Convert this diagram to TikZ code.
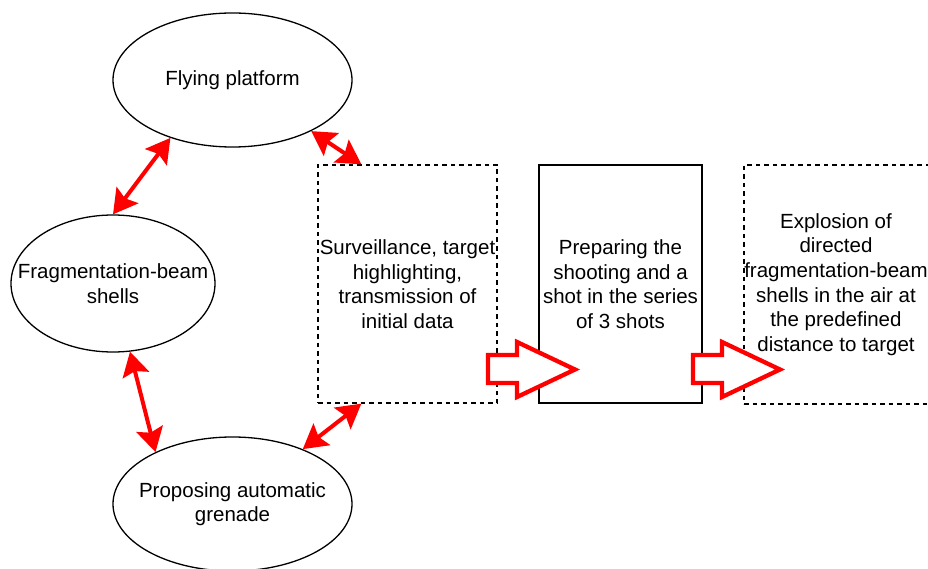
\documentclass[tikz,border=0pt]{standalone}
\usepackage{fontspec}
\setmainfont{Liberation Sans}
\usetikzlibrary{arrows.meta,shapes.geometric}
\definecolor{arrowred}{RGB}{255,0,0}
\tikzset{
  ell/.style={draw=black, line width=1.3pt, ellipse, inner sep=0pt},
  lbl/.style={align=center, inner sep=0pt, font=\fontsize{20.5}{24.6}\selectfont},
  dashbox/.style={draw=black, line width=1.3pt, dash pattern=on 4.5pt off 4pt, rectangle, inner sep=0pt},
  solidbox/.style={draw=black, line width=1.3pt, rectangle, inner sep=0pt},
  redhead/.tip={Stealth[length=24pt,width=27pt,inset=4pt]},
  dbl/.style={draw=arrowred, line width=4pt, redhead-redhead},
  blockarrow/.style={draw=arrowred, fill=white, line width=4.3pt, line join=miter}
}
\begin{document}
\begin{tikzpicture}[x=1pt, y=-1pt]
  \useasboundingbox (0,0) rectangle (928,569);

  % ellipses
  \node[ell, minimum width=239pt, minimum height=134pt] (fp) at (232.5,80) {};
  \node[lbl] at (fp) {Flying platform};
  \node[ell, minimum width=204pt, minimum height=137pt] (sh) at (113,283.5) {};
  \node[lbl] at (sh) {Fragmentation-beam\\shells};
  \node[ell, minimum width=239pt, minimum height=134pt] (gr) at (232.5,504) {};
  \node[lbl] at (gr) {Proposing automatic\\grenade};

  % process boxes
  \node[dashbox, minimum width=179pt, minimum height=238pt] (sv) at (407.5,284) {};
  \node[lbl] at (sv) {Surveillance, target\\highlighting,\\transmission of\\initial data};
  \node[solidbox, minimum width=163pt, minimum height=238pt] (pr) at (620.5,284) {};
  \node[lbl] at (pr) {Preparing the\\shooting and a\\shot in the series\\of 3 shots};
  \node[dashbox, minimum width=186pt, minimum height=239pt] (ex) at (837,284.5) {};
  \node[lbl] at ([xshift=-1pt]ex.center) {Explosion of\\directed\\fragmentation-beam\\shells in the air at\\the predefined\\distance to target};

  % anchor points on the box edges
  \coordinate (svtop) at ([xshift=44pt]sv.north west);
  \coordinate (svbot) at ([xshift=44pt]sv.south west);

  % two-way links
  \draw[dbl] (fp.-137.3) -- (sh.90);
  \draw[dbl] (sh.-76) -- (gr.146.1);
  \draw[dbl] (fp.-33.2) -- (svtop);
  \draw[dbl] (gr.38.5) -- (svbot);

  % block arrows between the stages
  \foreach \dx in {0, 205} {
    \begin{scope}[xshift=\dx pt]
      \draw[blockarrow] (488,355) -- (517,355) -- (517,342) -- (575,369.5)
        -- (517,397) -- (517,383) -- (488,383) -- cycle;
    \end{scope}
  }
\end{tikzpicture}
\end{document}
